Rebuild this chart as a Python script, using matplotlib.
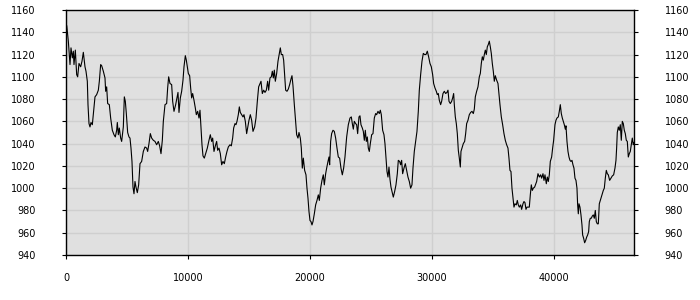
import matplotlib
matplotlib.use("Agg")
import matplotlib.pyplot as plt

# values
x_vals = [0, 60, 191, 328, 410, 519, 601, 655, 765, 874, 956, 1065, 1202, 1311, 1420, 1557, 1639, 1748, 1803, 1885,
          1967, 2049, 2158, 2240, 2377, 2513, 2650, 2732, 2841, 2923, 3060, 3196, 3251, 3333, 3415, 3551, 3661, 3797,
          3934, 4043, 4152, 4207, 4289, 4371, 4480, 4562, 4699, 4781, 4863, 4945, 5054, 5163, 5245, 5327, 5409, 5491,
          5573, 5655, 5737, 5846, 5956, 6065, 6201, 6338, 6475, 6611, 6693, 6802, 6912, 7021, 7158, 7294, 7431, 7567,
          7677, 7787, 7896, 7978, 8115, 8251, 8333, 8415, 8524, 8661, 8743, 8852, 8989, 9098, 9180, 9262, 9371, 9481,
          9590, 9672, 9781, 9863, 9945, 10027, 10136, 10218, 10300, 10382, 10491, 10601, 10683, 10792, 10901, 10983,
          11065, 11147, 11229, 11338, 11448, 11584, 11721, 11830, 11939, 12021, 12131, 12240, 12349, 12431, 12540,
          12650, 12759, 12868, 12978, 13087, 13196, 13305, 13442, 13551, 13661, 13743, 13852, 13934, 14016, 14125,
          14207, 14289, 14398, 14508, 14589, 14699, 14808, 14890, 14999, 15109, 15218, 15328,
          15464, 15574, 15683, 15792, 15902, 15984, 16093, 16202, 16311, 16421, 16530, 16612, 16721, 16830, 16912,
          16994, 17076, 17158, 17268, 17377, 17486, 17568, 17650, 17759, 17841, 17923, 18005, 18115, 18224, 18333,
          18442, 18524, 18606, 18716, 18825, 18907, 19016, 19098, 19208, 19289, 19371, 19453, 19562, 19672, 19754,
          19836, 19918, 20000, 20082, 20164, 20246, 20355, 20464, 20573, 20683, 20765, 20874, 20983, 21092, 21174,
          21284, 21366, 21475, 21557, 21611, 21693, 21775, 21885, 21994, 22103, 22213, 22322, 22431, 22540, 22650,
          22759, 22868,
          23006, 23142, 23279, 23388, 23470, 23552, 23634, 23743, 23825, 23907, 24016, 24098, 24180, 24290, 24372,
          24454, 24536, 24617, 24699, 24781, 24863, 24945, 25055, 25164, 25273, 25382, 25464, 25574, 25683, 25765,
          25847, 25956, 26065, 26147, 26229, 26311, 26393, 26475, 26557, 26639, 26721, 26830, 26940, 27049, 27158,
          27240, 27349, 27431, 27513, 27595, 27705, 27814, 27923, 28032, 28142, 28251, 28360, 28442, 28551, 28661,
          28770, 28879, 28961, 29071, 29180, 29289, 29398, 29508, 29617, 29726, 29836, 29945, 30054, 30136, 30245,
          30355, 30437, 30519, 30600, 30710,
          30793, 30902, 31011, 31120, 31230, 31312, 31394, 31503, 31612, 31694, 31776, 31831, 31913, 31995, 32077,
          32159, 32241, 32323, 32377, 32459, 32568, 32678, 32760, 32842, 32951, 33060, 33169, 33279, 33388, 33470,
          33552, 33661, 33770, 33880, 33962, 34044, 34126, 34208, 34290, 34372, 34454, 34535, 34617, 34699, 34781,
          34863, 34945, 35027, 35109, 35191, 35300, 35410, 35492, 35574, 35683, 35792, 35901, 36011, 36120, 36229,
          36311, 36393, 36475, 36557, 36639, 36721, 36803, 36912, 36994, 37076, 37158, 37268, 37349, 37459, 37541,
          37623, 37705, 37787, 37896, 37978, 38060, 38142, 38224, 38306, 38415,
          38580, 38689, 38798, 38907, 38989, 39099, 39181, 39263, 39372, 39454, 39536, 39618, 39700, 39809, 39891,
          39973, 40082, 40164, 40246, 40355, 40437, 40519, 40601, 40683, 40765, 40847, 40929, 40984, 41066, 41148,
          41230, 41312, 41394, 41476, 41557, 41639, 41721, 41803, 41885, 41940, 41995, 42049, 42131, 42213, 42295,
          42350, 42432, 42514, 42596, 42678, 42760, 42842, 42896, 42978, 43060, 43142, 43224, 43306, 43388, 43470,
          43552, 43634, 43716, 43798, 43880, 43962, 44044, 44126, 44208, 44290, 44372, 44454, 44563, 44672, 44781,
          44891, 45000, 45082, 45136, 45191, 45273, 45355, 45437, 45519, 45601, 45683, 45765, 45847, 45929, 46011,
          46093, 46175, 46256, 46338, 46420, 46502, 46557]

y_vals = [1138, 1146, 1132, 1111, 1126, 1117, 1123, 1111, 1124, 1102, 1100, 1112, 1109, 1114, 1122, 1109, 1105, 1096, 1075, 1058,
          1055, 1059, 1057, 1066, 1082, 1084, 1088, 1096, 1111, 1110, 1105, 1099, 1087, 1091, 1076, 1075, 1063, 1052,
          1048, 1046, 1052, 1059, 1048, 1054, 1045, 1042, 1055, 1082, 1078, 1067, 1050, 1046, 1045, 1036, 1024, 1001,
          995, 1006, 1001, 996, 1003, 1022, 1024, 1033, 1037, 1036, 1033, 1040, 1049, 1045, 1043, 1042, 1039, 1042,
          1038, 1031, 1043, 1060, 1075, 1076, 1090, 1100, 1094, 1093, 1078, 1069, 1075, 1081, 1086, 1068, 1081, 1087,
          1097, 1109, 1119, 1115, 1109, 1103, 1101, 1090, 1081, 1085, 1079, 1072, 1066, 1069, 1063, 1070,
          1054, 1039, 1029, 1027, 1031, 1036, 1043, 1048, 1042, 1045, 1033, 1038, 1042, 1034, 1036,
          1031, 1021, 1024, 1022, 1028, 1033, 1037, 1039, 1038, 1045, 1054, 1058, 1057, 1060, 1066,
          1073, 1068, 1066, 1064, 1066, 1060, 1049, 1054, 1061, 1066, 1061, 1051,
          1055, 1063, 1078, 1091, 1094, 1096, 1085, 1088, 1086, 1088, 1096, 1088, 1099, 1100, 1105,
          1099, 1106, 1096, 1103, 1114, 1121, 1126, 1120, 1120, 1115, 1102, 1088, 1087, 1089, 1093,
          1098, 1101, 1092, 1075, 1060, 1048, 1045, 1050, 1045, 1036, 1018, 1027, 1016, 1012, 1000,
          991, 979, 971, 970, 967, 970, 977, 985, 989, 994, 989, 1000, 1007, 1012, 1003,
          1013, 1018, 1024, 1028, 1021, 1042, 1049, 1052, 1051, 1045, 1036, 1028, 1027, 1018, 1012,
          1018, 1028,
          1046, 1057, 1063, 1064, 1058, 1053, 1060, 1058, 1057, 1049, 1064, 1065, 1057, 1054, 1051,
          1043, 1052, 1042, 1046, 1036, 1033, 1040, 1048, 1049, 1063, 1067, 1066, 1069, 1067, 1070,
          1066, 1052, 1048, 1040, 1027, 1015, 1010, 1019, 1008, 1001, 997, 992, 997, 1003, 1013,
          1025, 1024, 1021, 1025, 1013, 1018, 1022, 1016, 1010, 1006, 1000, 1003, 1018, 1033, 1042,
          1051, 1069, 1088, 1102, 1114, 1121, 1120, 1120, 1123, 1118, 1112, 1109, 1102, 1094, 1090,
          1087, 1084, 1085, 1079, 1075,
          1078, 1085, 1087, 1085, 1086, 1088, 1078, 1076, 1078, 1081, 1085, 1075, 1064, 1058, 1049,
          1034, 1027, 1019, 1033, 1036, 1040, 1042, 1049, 1058, 1061, 1066, 1068, 1069, 1067, 1071,
          1082, 1087, 1091, 1100, 1103, 1112, 1118, 1115, 1120, 1124, 1120, 1127, 1129, 1132, 1127,
          1121, 1112, 1105, 1096, 1101, 1097, 1094, 1084, 1075, 1064, 1057, 1049, 1043, 1039, 1036,
          1027, 1016, 1015, 1000, 991, 983, 986, 985, 989, 985, 983, 985, 981, 986, 988,
          987, 981, 983, 983, 983, 994, 1003, 998, 1000, 1001,
          1006, 1013, 1010, 1012, 1009, 1013, 1007, 1012, 1004, 1010, 1006, 1012, 1024, 1028, 1036,
          1043, 1057, 1061, 1063, 1064, 1069, 1075, 1067, 1063, 1060, 1057, 1053, 1056, 1042, 1033,
          1028, 1025, 1024, 1025, 1021, 1018, 1009, 1007, 1000, 985, 977, 986, 983, 976, 967,
          958, 955, 951, 953, 956, 958, 961, 970, 973, 973, 975, 976, 973, 980, 970,
          968, 968, 986, 989, 992, 995, 998, 1000, 1009, 1016, 1013, 1012, 1007, 1009, 1011,
          1012, 1018, 1025, 1036, 1050, 1055, 1052, 1057, 1043, 1060, 1058, 1052, 1049, 1043, 1042,
          1028, 1031, 1033, 1039, 1045, 1039, 1041]

x_ticks = [0, 10000, 20000, 30000, 40000]
y_ticks = [940, 960, 980, 1000, 1020, 1040, 1060, 1080, 1100, 1120, 1140, 1160]

fig = plt.figure(figsize=(7, 3), dpi=100)
ax = fig.add_axes([66 / 700, 45 / 300, 568 / 700, 245 / 300])
ax.set_facecolor('#e0e0e0')

ax.plot(x_vals, y_vals, color='black', lw=0.8)

ax.set_xlim(0, 46560)
ax.set_ylim(940, 1160)
ax.set_xticks(x_ticks)
ax.set_yticks(y_ticks)
ax.grid(True, color='#cfcfcf', lw=1)
ax.set_axisbelow(True)

for s in ax.spines.values():
    s.set_color('black')
    s.set_linewidth(1)

ax.tick_params(axis='y', which='both', left=True, right=True, labelleft=True, labelright=True,
               length=3, pad=19, labelsize=7, colors='black')
ax.tick_params(axis='x', length=3, pad=10, labelsize=7, colors='black')

plt.savefig('out.png', dpi=100)
